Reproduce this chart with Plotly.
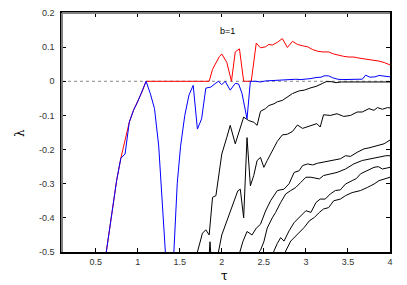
import plotly.graph_objects as go

# ---- data ----
red_tau = [0.60, 0.65, 0.70, 0.75, 0.80, 0.85, 0.90, 0.95, 1.00, 1.05, 1.10, 1.20, 1.30, 1.40, 1.50, 1.60, 1.70, 1.80, 1.85,
           1.89, 1.93, 1.97, 2.00, 2.06, 2.115, 2.16, 2.21, 2.26, 2.30, 2.35, 2.41, 2.46, 2.52, 2.56, 2.60, 2.66, 2.72,
           2.78, 2.84, 2.90, 2.96, 3.02, 3.08, 3.14, 3.20, 3.27, 3.33, 3.39, 3.45, 3.51, 3.57, 3.63, 3.69, 3.75, 3.81,
           3.87, 3.93, 4.00]
red_lam = [-0.545, -0.455, -0.37, -0.29, -0.225, -0.17, -0.12, -0.085, -0.06, -0.032, 0.0, 0.0, 0.0, 0.0, 0.0, 0.0, 0.0, 0.0, 0.0,
           0.035, 0.055, 0.072, 0.080, 0.055, 0.0, 0.086, 0.095, 0.0, 0.0, 0.0, 0.112, 0.098, 0.101, 0.108, 0.106, 0.114, 0.125,
           0.099, 0.117, 0.108, 0.104, 0.101, 0.093, 0.088, 0.086, 0.086, 0.080, 0.076, 0.073, 0.071, 0.071, 0.068, 0.066, 0.064, 0.063,
           0.059, 0.055, 0.048]

blue_tau = [0.60, 0.65, 0.70, 0.75, 0.80, 0.85, 0.90, 0.95, 1.00, 1.05, 1.10, 1.15, 1.20, 1.25, 1.30, 1.33, 1.38, 1.43, 1.47,
            1.51, 1.56, 1.61, 1.66, 1.71, 1.76, 1.81, 1.87, 1.92, 1.96, 2.00, 2.04, 2.10, 2.16, 2.20, 2.24, 2.30, 2.34,
            2.40, 2.46, 2.52, 2.58, 2.64, 2.70, 2.76, 2.82, 2.88, 2.94, 3.00, 3.06, 3.12, 3.18, 3.22, 3.27, 3.32, 3.38,
            3.44, 3.50, 3.56, 3.62, 3.67, 3.71, 3.76, 3.82, 3.87, 3.93, 4.00]
blue_lam = [-0.545, -0.455, -0.37, -0.29, -0.225, -0.213, -0.12, -0.085, -0.06, -0.032, 0.0, -0.036, -0.08, -0.19, -0.40, -0.56, -0.70, -0.50, -0.30,
            -0.19, -0.10, -0.04, -0.012, -0.14, -0.11, -0.02, -0.017, -0.007, 0.0, -0.01, 0.0, -0.026, -0.006, -0.008, -0.035, -0.11, 0.0,
            0.0, -0.002, 0.001, 0.002, 0.003, 0.004, 0.005, 0.004, 0.006, 0.005, 0.006, 0.008, 0.011, 0.012, 0.016, 0.016, 0.010, 0.006,
            0.005, 0.006, 0.007, 0.006, 0.006, 0.018, 0.012, 0.013, 0.017, 0.016, 0.013]

blackA_tau = [1.68, 1.71, 1.77, 1.81, 1.85, 1.89, 1.93, 1.97, 2.00, 2.06, 2.10, 2.16, 2.22, 2.26, 2.32, 2.38, 2.42, 2.46, 2.52,
              2.56, 2.62, 2.66, 2.72, 2.78, 2.84, 2.92, 2.98, 3.06, 3.12, 3.20, 3.24, 3.30, 3.36, 3.42, 3.50, 3.60, 3.70,
              3.80, 3.90, 4.00]
blackA_lam = [-0.56, -0.50, -0.445, -0.435, -0.45, -0.34, -0.335, -0.27, -0.213, -0.164, -0.129, -0.183, -0.134, -0.105, -0.115, -0.12, -0.129, -0.088, -0.08,
              -0.071, -0.066, -0.06, -0.056, -0.046, -0.036, -0.028, -0.026, -0.019, -0.015, -0.006, -0.001, -0.001, -0.004, -0.002, -0.002, -0.002, -0.002,
              -0.002, -0.002, -0.002]

blackB_tau = [1.82, 1.86, 1.90, 1.96, 2.00, 2.04, 2.10, 2.14, 2.19, 2.22, 2.26, 2.30, 2.34, 2.38, 2.42, 2.46, 2.50, 2.54, 2.60,
              2.66, 2.72, 2.78, 2.84, 2.90, 2.96, 3.02, 3.08, 3.13, 3.17, 3.21, 3.29, 3.37, 3.45, 3.53, 3.61, 3.67, 3.75,
              3.81, 3.85, 3.91, 3.97, 4.00]
blackB_lam = [-0.62, -0.47, -0.62, -0.50, -0.45, -0.424, -0.384, -0.355, -0.321, -0.316, -0.40, -0.165, -0.306, -0.276, -0.232, -0.223, -0.252, -0.232, -0.203,
              -0.176, -0.157, -0.155, -0.147, -0.128, -0.138, -0.133, -0.130, -0.124, -0.134, -0.098, -0.100, -0.095, -0.103, -0.100, -0.090, -0.090, -0.080,
              -0.085, -0.077, -0.082, -0.077, -0.078]

blackC_tau = [2.18, 2.25, 2.30, 2.36, 2.41, 2.46, 2.52, 2.58, 2.66, 2.74, 2.80, 2.86, 2.92, 2.96, 3.02, 3.08, 3.14, 3.21, 3.27,
              3.33, 3.41, 3.47, 3.53, 3.61, 3.69, 3.75, 3.81, 3.87, 3.93, 4.00]
blackC_lam = [-0.53, -0.47, -0.44, -0.45, -0.43, -0.419, -0.38, -0.35, -0.32, -0.316, -0.30, -0.267, -0.262, -0.247, -0.242, -0.245, -0.240, -0.237, -0.235,
              -0.232, -0.227, -0.218, -0.220, -0.208, -0.198, -0.195, -0.191, -0.187, -0.183, -0.172]

blackD_tau = [2.38, 2.46, 2.50, 2.54, 2.60, 2.64, 2.70, 2.76, 2.82, 2.88, 2.94, 3.00, 3.06, 3.12, 3.16, 3.21, 3.29, 3.37, 3.47,
              3.57, 3.67, 3.77, 3.87, 3.95, 4.00]
blackD_lam = [-0.52, -0.495, -0.47, -0.43, -0.40, -0.384, -0.355, -0.33, -0.32, -0.311, -0.296, -0.281, -0.281, -0.284, -0.286, -0.276, -0.271, -0.267, -0.257,
              -0.242, -0.232, -0.227, -0.223, -0.218, -0.218]

blackE_tau = [2.60, 2.62, 2.66, 2.70, 2.74, 2.80, 2.86, 2.92, 3.00, 3.06, 3.12, 3.17, 3.23, 3.29, 3.35, 3.41, 3.47, 3.55, 3.60,
              3.65, 3.73, 3.81, 3.86, 3.91, 4.00]
blackE_lam = [-0.52, -0.497, -0.475, -0.458, -0.468, -0.438, -0.414, -0.40, -0.379, -0.384, -0.355, -0.345, -0.345, -0.330, -0.320, -0.318, -0.301, -0.291, -0.285,
              -0.271, -0.262, -0.252, -0.250, -0.257, -0.252]

blackF_tau = [2.74, 2.76, 2.82, 2.88, 2.94, 2.98, 3.04, 3.10, 3.16, 3.21, 3.27, 3.33, 3.41, 3.47, 3.55, 3.65, 3.73, 3.81, 3.87,
              3.93, 4.00]
blackF_lam = [-0.52, -0.497, -0.468, -0.453, -0.438, -0.428, -0.409, -0.399, -0.384, -0.374, -0.370, -0.350, -0.345, -0.335, -0.326, -0.320, -0.311, -0.301, -0.291,
              -0.286, -0.281]

x_ticks = [0.5, 1, 1.5, 2, 2.5, 3, 3.5, 4]
x_ticktext = ["0.5", "1", "1.5", "2", "2.5", "3", "3.5", "4"]
y_ticks = [-0.5, -0.4, -0.3, -0.2, -0.1, 0, 0.1, 0.2]
y_ticktext = ["-0.5", "-0.4", "-0.3", "-0.2", "-0.1", "0", "0.1", "0.2"]

# ---- figure ----
W, H = 407, 285
ML, MR, MT, MB = 62, 17, 13, 33
PW, PH = W - ML - MR, H - MT - MB

def px_to_paper(px, py):
    return (px - ML) / PW, 1 - (py - MT) / PH

fig = go.Figure()

blacks = [(blackA_tau, blackA_lam), (blackB_tau, blackB_lam), (blackC_tau, blackC_lam),
          (blackD_tau, blackD_lam), (blackE_tau, blackE_lam), (blackF_tau, blackF_lam)]
for t, l in blacks:
    fig.add_trace(go.Scatter(x=t, y=l, mode="lines", line=dict(color="black", width=1), showlegend=False))

fig.add_trace(go.Scatter(x=red_tau, y=red_lam, mode="lines", line=dict(color="#ff0000", width=1), showlegend=False))
fig.add_trace(go.Scatter(x=blue_tau, y=blue_lam, mode="lines", line=dict(color="#0000ff", width=1), showlegend=False))

tickfont = dict(family="Liberation Sans, Arial, sans-serif", size=9, color="#333333")

lam_x, lam_y = px_to_paper(20, 133)
tau_x, tau_y = px_to_paper(224, 276)

fig.update_layout(
    width=W, height=H,
    margin=dict(l=ML, r=MR, t=MT, b=MB, autoexpand=False),
    paper_bgcolor="white", plot_bgcolor="white",
    xaxis=dict(range=[0.1, 4], tickvals=x_ticks, ticktext=x_ticktext, ticks="inside", ticklen=4,
               tickcolor="black", mirror="allticks", showline=True, linecolor="black", linewidth=1.5,
               showgrid=False, zeroline=False, automargin=False,
               tickfont=tickfont, ticklabelstandoff=0),
    yaxis=dict(range=[-0.5, 0.2], tickvals=y_ticks, ticktext=y_ticktext, ticks="inside", ticklen=4,
               tickcolor="black", mirror="allticks", showline=True, linecolor="black", linewidth=1.5,
               showgrid=False, zeroline=False, automargin=False,
               tickfont=tickfont, ticklabelstandoff=4),
    shapes=[
        dict(type="line", xref="paper", yref="y", x0=0, x1=1, y0=0, y1=0,
             line=dict(color="#888888", width=1, dash="dot"), layer="below"),
        dict(type="line", xref="paper", yref="paper", x0=0, x1=0, y0=0, y1=1, line=dict(color="#808080", width=2)),
        dict(type="line", xref="paper", yref="paper", x0=0, x1=1, y0=1, y1=1, line=dict(color="#808080", width=2)),
    ],
    annotations=[
        dict(x=2.07, y=0.147, xref="x", yref="y", text="b=1", showarrow=False,
             font=dict(family="Liberation Sans, Arial, sans-serif", size=9, color="black")),
        dict(x=lam_x, y=lam_y, xref="paper", yref="paper", text="λ", showarrow=False, textangle=-90,
             xanchor="center", yanchor="middle",
             font=dict(family="DejaVu Serif, serif", size=12, color="black")),
        dict(x=tau_x, y=tau_y, xref="paper", yref="paper", text="τ", showarrow=False,
             xanchor="center", yanchor="middle",
             font=dict(family="DejaVu Serif, serif", size=12, color="black")),
    ],
)

fig.write_html("out.html", config={"displayModeBar": False},
               post_script="document.body.style.margin='0';document.body.style.padding='0';")
